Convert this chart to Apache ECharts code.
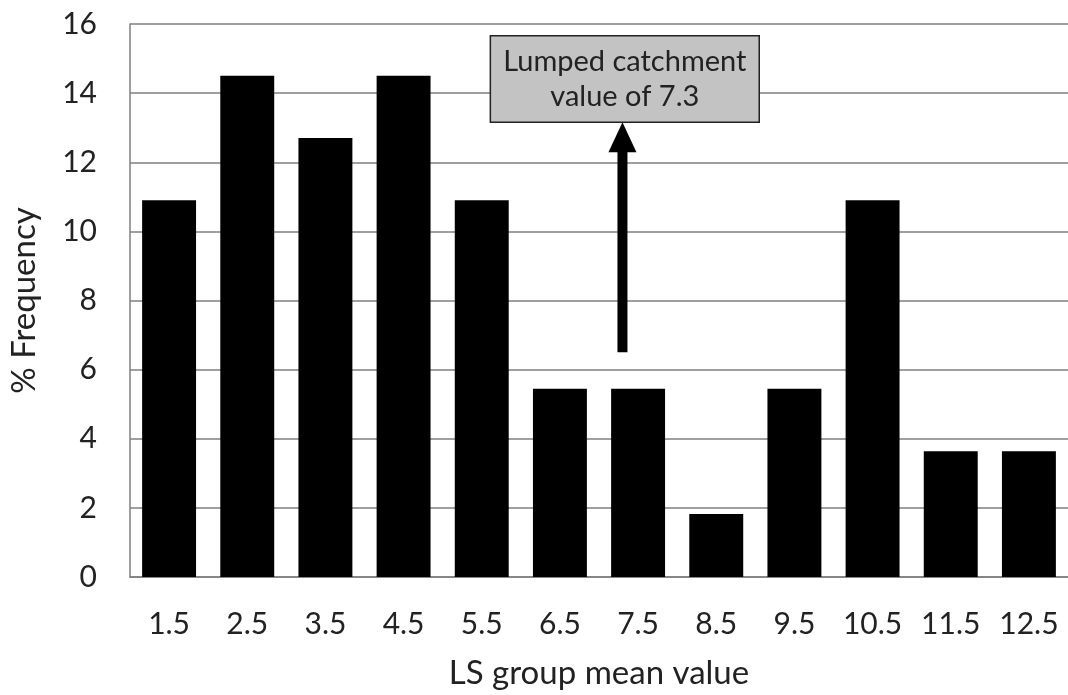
<!DOCTYPE html>
<html>
<head>
<meta charset="utf-8">
<script src="https://cdn.jsdelivr.net/npm/echarts@6/dist/echarts.min.js"></script>
<style>
  html, body { margin: 0; padding: 0; background: #ffffff; }
  #chart { width: 1068px; height: 695px; }
</style>
</head>
<body>
<div id="chart"></div>
<script>
// LS group mean values (category labels) and % frequency per group
const categories = ['1.5', '2.5', '3.5', '4.5', '5.5', '6.5', '7.5', '8.5', '9.5', '10.5', '11.5', '12.5'];
const frequency = [10.9, 14.5, 12.7, 14.5, 10.9, 5.45, 5.45, 1.82, 5.45, 10.9, 3.64, 3.64];
const yTicks = [0, 2, 4, 6, 8, 10, 12, 14, 16];

// Lumped catchment annotation: LS value it points at, arrow span in % frequency
const lumpedValue = 7.3;
const arrowFrom = 6.5;
const arrowTo = 13.16;
const noteText = 'Lumped catchment\nvalue of 7.3';

const FONT = 'Lato';
const chart = echarts.init(document.getElementById('chart'), null, { renderer: 'canvas' });

chart.setOption({
  backgroundColor: '#ffffff',
  animation: false,
  grid: { left: 120, right: 0, top: 24, bottom: 113, containLabel: false },
  xAxis: [
    {
      type: 'category',
      data: categories,
      axisTick: { show: false },
      axisLine: { show: true, lineStyle: { color: '#7f7f7f', width: 1.5 } },
      axisLabel: { color: '#222', fontFamily: FONT, fontSize: 30, margin: 32, interval: 0, hideOverlap: false },
      name: 'LS group mean value',
      nameLocation: 'middle',
      nameGap: 80,
      nameTextStyle: { color: '#222', fontFamily: FONT, fontSize: 33 }
    },
    {
      // continuous LS scale over the same span, used to place the annotation
      type: 'value',
      min: 1,
      max: 13,
      show: false
    }
  ],
  yAxis: {
    type: 'value',
    min: yTicks[0],
    max: yTicks[yTicks.length - 1],
    interval: 2,
    axisTick: { show: false },
    axisLine: { show: true, lineStyle: { color: '#7f7f7f', width: 1.5 } },
    axisLabel: { color: '#222', fontFamily: FONT, fontSize: 30, margin: 33 },
    splitLine: { show: true, lineStyle: { color: '#7f7f7f', width: 1.5 } },
    name: '% Frequency',
    nameLocation: 'middle',
    nameGap: 89,
    nameRotate: 90,
    nameTextStyle: { color: '#222', fontFamily: FONT, fontSize: 33 }
  },
  series: [
    {
      type: 'bar',
      data: frequency,
      barCategoryGap: '31%',
      itemStyle: { color: '#000000' }
    },
    {
      // annotation box
      type: 'line',
      xAxisIndex: 1,
      data: [],
      silent: true,
      markArea: {
        silent: true,
        itemStyle: { color: '#c3c3c3', borderColor: '#222', borderWidth: 1.5, opacity: 1 },
        label: {
          show: true,
          position: 'inside',
          formatter: noteText,
          color: '#222',
          fontFamily: FONT,
          fontSize: 29,
          lineHeight: 35
        },
        data: [[{ coord: [5.61, 15.66] }, { coord: [9.05, 13.16] }]]
      },
      z: 5
    },
    {
      // arrow from the histogram up to the annotation box
      type: 'custom',
      xAxisIndex: 1,
      data: [[lumpedValue, arrowFrom, arrowTo]],
      silent: true,
      z: 6,
      renderItem: function (params, api) {
        const base = api.coord([api.value(0), api.value(1)]);
        const tip = api.coord([api.value(0), api.value(2)]);
        const headH = 30, headW = 28, shaftW = 10;
        return {
          type: 'group',
          children: [
            {
              type: 'rect',
              shape: { x: base[0] - shaftW / 2, y: tip[1] + headH - 2, width: shaftW, height: base[1] - tip[1] - headH + 2 },
              style: { fill: '#000' }
            },
            {
              type: 'polygon',
              shape: { points: [[tip[0], tip[1]], [tip[0] - headW / 2, tip[1] + headH], [tip[0] + headW / 2, tip[1] + headH]] },
              style: { fill: '#000' }
            }
          ]
        };
      }
    }
  ]
});
</script>
</body>
</html>
